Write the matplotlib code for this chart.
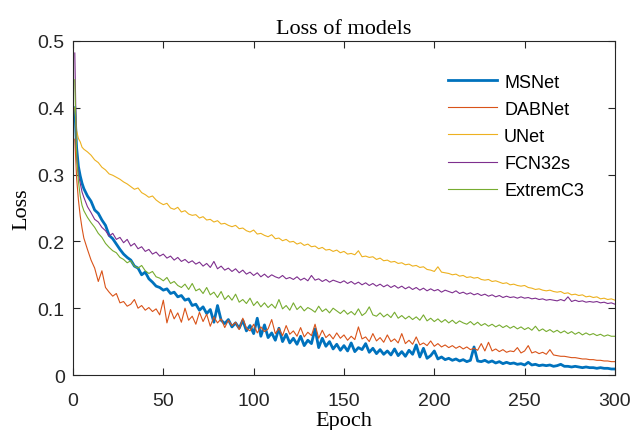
import matplotlib
matplotlib.use('Agg')
import matplotlib.pyplot as plt

# epochs 1..6, then every second epoch up to 300
epochs = [1, 2, 3, 4, 5, 6] + list(range(8, 301, 2))

msnet = [
    0.400, 0.340, 0.312, 0.298, 0.287, 0.279,
    0.268, 0.260, 0.247, 0.242, 0.232, 0.224, 0.209, 0.204, 0.196, 0.188,
    0.181, 0.176, 0.172, 0.163, 0.160, 0.150, 0.154, 0.144, 0.139, 0.133,
    0.131, 0.127, 0.129, 0.122, 0.124, 0.117, 0.119, 0.112, 0.114, 0.104,
    0.106, 0.097, 0.102, 0.092, 0.098, 0.079, 0.104, 0.082, 0.077, 0.083,
    0.072, 0.078, 0.070, 0.082, 0.066, 0.074, 0.062, 0.085, 0.058, 0.075,
    0.056, 0.063, 0.052, 0.070, 0.050, 0.061, 0.048, 0.055, 0.046, 0.058,
    0.044, 0.052, 0.047, 0.069, 0.041, 0.055, 0.043, 0.050, 0.039, 0.046,
    0.037, 0.044, 0.036, 0.048, 0.035, 0.041, 0.038, 0.047, 0.034, 0.040,
    0.032, 0.038, 0.031, 0.036, 0.030, 0.039, 0.029, 0.035, 0.028, 0.037,
    0.031, 0.045, 0.027, 0.040, 0.025, 0.029, 0.036, 0.024, 0.027, 0.023,
    0.025, 0.022, 0.024, 0.021, 0.023, 0.020, 0.022, 0.042, 0.021, 0.020,
    0.022, 0.019, 0.021, 0.018, 0.020, 0.017, 0.019, 0.017, 0.018, 0.016,
    0.017, 0.015, 0.019, 0.015, 0.016, 0.014, 0.015, 0.014, 0.015, 0.013,
    0.014, 0.016, 0.013, 0.013, 0.012, 0.013, 0.012, 0.011, 0.012, 0.011,
    0.011, 0.010, 0.011, 0.010, 0.010, 0.009, 0.009,
]

dabnet = [
    0.353, 0.295, 0.262, 0.238, 0.220, 0.205,
    0.188, 0.172, 0.160, 0.140, 0.156, 0.131, 0.124, 0.118, 0.122, 0.108,
    0.110, 0.103, 0.106, 0.113, 0.100, 0.104, 0.097, 0.101, 0.095, 0.099,
    0.090, 0.112, 0.078, 0.098, 0.084, 0.093, 0.079, 0.100, 0.082, 0.088,
    0.076, 0.094, 0.080, 0.091, 0.073, 0.087, 0.078, 0.084, 0.071, 0.082,
    0.074, 0.079, 0.068, 0.085, 0.070, 0.066, 0.076, 0.063, 0.072, 0.065,
    0.069, 0.083, 0.062, 0.070, 0.059, 0.074, 0.061, 0.066, 0.058, 0.071,
    0.057, 0.064, 0.059, 0.076, 0.055, 0.067, 0.056, 0.061, 0.054, 0.063,
    0.055, 0.060, 0.052, 0.058, 0.053, 0.072, 0.054, 0.057, 0.050, 0.062,
    0.051, 0.056, 0.049, 0.060, 0.050, 0.054, 0.048, 0.062, 0.047, 0.052,
    0.046, 0.057, 0.045, 0.048, 0.044, 0.051, 0.043, 0.047, 0.042, 0.045,
    0.041, 0.044, 0.040, 0.043, 0.039, 0.042, 0.038, 0.040, 0.037, 0.047,
    0.036, 0.049, 0.036, 0.039, 0.035, 0.038, 0.034, 0.036, 0.035, 0.041,
    0.033, 0.036, 0.044, 0.033, 0.035, 0.032, 0.034, 0.031, 0.038, 0.030,
    0.029, 0.028, 0.028, 0.027, 0.026, 0.026, 0.025, 0.024, 0.024, 0.023,
    0.023, 0.022, 0.022, 0.021, 0.021, 0.020, 0.020,
]

unet = [
    0.400, 0.366, 0.354, 0.349, 0.341, 0.338,
    0.334, 0.329, 0.322, 0.318, 0.311, 0.307, 0.301, 0.299, 0.296, 0.293,
    0.289, 0.286, 0.282, 0.278, 0.280, 0.273, 0.270, 0.266, 0.268, 0.262,
    0.258, 0.255, 0.257, 0.250, 0.248, 0.251, 0.244, 0.246, 0.241, 0.239,
    0.240, 0.235, 0.237, 0.232, 0.233, 0.229, 0.231, 0.226, 0.227, 0.224,
    0.222, 0.224, 0.219, 0.220, 0.216, 0.214, 0.217, 0.211, 0.212, 0.209,
    0.207, 0.210, 0.204, 0.205, 0.201, 0.203, 0.199, 0.200, 0.196, 0.198,
    0.194, 0.196, 0.192, 0.193, 0.189, 0.191, 0.187, 0.188, 0.185, 0.187,
    0.183, 0.185, 0.181, 0.182, 0.180, 0.186, 0.177, 0.178, 0.176, 0.177,
    0.173, 0.175, 0.171, 0.172, 0.169, 0.170, 0.167, 0.168, 0.165, 0.166,
    0.163, 0.164, 0.161, 0.162, 0.158, 0.157, 0.155, 0.162, 0.154, 0.153,
    0.152, 0.150, 0.151, 0.148, 0.149, 0.146, 0.147, 0.145, 0.146, 0.143,
    0.142, 0.143, 0.140, 0.141, 0.139, 0.137, 0.138, 0.135, 0.136, 0.134,
    0.133, 0.134, 0.131, 0.130, 0.128, 0.129, 0.127, 0.126, 0.127, 0.125,
    0.124, 0.125, 0.122, 0.123, 0.120, 0.121, 0.119, 0.120, 0.117, 0.118,
    0.116, 0.117, 0.114, 0.115, 0.113, 0.114, 0.112,
]

fcn32s = [
    0.482, 0.330, 0.300, 0.287, 0.274, 0.266,
    0.252, 0.243, 0.233, 0.229, 0.221, 0.216, 0.208, 0.212, 0.203, 0.206,
    0.198, 0.203, 0.193, 0.197, 0.189, 0.192, 0.185, 0.188, 0.181, 0.184,
    0.178, 0.181, 0.175, 0.178, 0.172, 0.176, 0.170, 0.173, 0.168, 0.171,
    0.166, 0.169, 0.163, 0.167, 0.161, 0.170, 0.159, 0.163, 0.157, 0.160,
    0.155, 0.159, 0.153, 0.157, 0.151, 0.154, 0.149, 0.153, 0.147, 0.151,
    0.146, 0.150, 0.147, 0.145, 0.149, 0.144, 0.146, 0.143, 0.147, 0.142,
    0.145, 0.141, 0.149, 0.142, 0.144, 0.140, 0.143, 0.139, 0.142, 0.140,
    0.138, 0.141, 0.137, 0.140, 0.136, 0.139, 0.135, 0.138, 0.134, 0.137,
    0.133, 0.136, 0.132, 0.135, 0.131, 0.134, 0.130, 0.133, 0.129, 0.132,
    0.128, 0.131, 0.127, 0.130, 0.126, 0.129, 0.126, 0.128, 0.124, 0.127,
    0.125, 0.123, 0.126, 0.122, 0.124, 0.121, 0.123, 0.120, 0.122, 0.119,
    0.121, 0.118, 0.120, 0.117, 0.119, 0.116, 0.118, 0.116, 0.117, 0.115,
    0.117, 0.115, 0.116, 0.114, 0.115, 0.113, 0.114, 0.112, 0.113, 0.112,
    0.111, 0.113, 0.111, 0.117, 0.110, 0.112, 0.110, 0.111, 0.109, 0.110,
    0.109, 0.110, 0.108, 0.109, 0.107, 0.108, 0.106,
]

extremc3 = [
    0.442, 0.330, 0.290, 0.268, 0.254, 0.246,
    0.236, 0.228, 0.221, 0.212, 0.206, 0.197, 0.191, 0.186, 0.183, 0.176,
    0.173, 0.168, 0.171, 0.163, 0.160, 0.164, 0.156, 0.152, 0.155, 0.147,
    0.145, 0.141, 0.146, 0.137, 0.140, 0.134, 0.131, 0.136, 0.128, 0.137,
    0.126, 0.129, 0.122, 0.131, 0.120, 0.124, 0.116, 0.125, 0.113, 0.119,
    0.112, 0.121, 0.109, 0.113, 0.107, 0.115, 0.104, 0.110, 0.102, 0.108,
    0.101, 0.106, 0.100, 0.113, 0.099, 0.104, 0.097, 0.108, 0.098, 0.103,
    0.096, 0.101, 0.098, 0.094, 0.103, 0.095, 0.099, 0.093, 0.100, 0.096,
    0.092, 0.097, 0.091, 0.095, 0.090, 0.099, 0.089, 0.093, 0.102, 0.090,
    0.088, 0.093, 0.087, 0.091, 0.086, 0.094, 0.085, 0.089, 0.084, 0.088,
    0.083, 0.087, 0.082, 0.090, 0.081, 0.085, 0.080, 0.084, 0.079, 0.083,
    0.078, 0.082, 0.077, 0.081, 0.078, 0.076, 0.080, 0.075, 0.079, 0.074,
    0.077, 0.073, 0.076, 0.072, 0.075, 0.071, 0.074, 0.070, 0.073, 0.069,
    0.072, 0.068, 0.071, 0.067, 0.073, 0.066, 0.069, 0.065, 0.068, 0.064,
    0.067, 0.063, 0.066, 0.062, 0.065, 0.061, 0.064, 0.060, 0.063, 0.060,
    0.062, 0.059, 0.061, 0.058, 0.060, 0.058, 0.058,
]

names = ['MSNet', 'DABNet', 'UNet', 'FCN32s', 'ExtremC3']
series = [msnet, dabnet, unet, fcn32s, extremc3]
colors = ['#0072BD', '#D95319', '#EDB120', '#7E2F8E', '#77AC30']
widths = [2.0, 0.8, 0.8, 0.8, 0.8]

xticks = [0, 50, 100, 150, 200, 250, 300]
yticks = [0, 0.1, 0.2, 0.3, 0.4, 0.5]
ytick_labels = ['0', '0.1', '0.2', '0.3', '0.4', '0.5']

sans = ['Liberation Sans', 'DejaVu Sans']
serif = ['Liberation Serif', 'DejaVu Serif']

fig = plt.figure(figsize=(6.32, 4.31), dpi=100)
ax = fig.add_axes([0.1155, 0.1276, 0.8575, 0.775])

for name, vals, c, lw in zip(names, series, colors, widths):
    ax.plot(epochs, vals, color=c, lw=lw, label=name)

ax.set_xlim(0, 300)
ax.set_ylim(0, 0.5)
ax.set_xticks(xticks)
ax.set_yticks(yticks)
ax.set_yticklabels(ytick_labels)
ax.tick_params(direction='in', top=True, right=True, length=5, width=0.8,
               colors='#262626', labelsize=14)
ax.tick_params(axis='x', pad=12)
ax.tick_params(axis='y', pad=6)
for lab in ax.get_xticklabels() + ax.get_yticklabels():
    lab.set_family(sans)
for sp in ax.spines.values():
    sp.set_color('#262626')
    sp.set_linewidth(0.8)

ax.set_title('Loss of models', family=serif, fontsize=16, color='#000000', pad=6)
ax.set_xlabel('Epoch', family=serif, fontsize=16, labelpad=2)
ax.set_ylabel('Loss', family=serif, fontsize=16, labelpad=4)

leg = ax.legend(loc='upper left', bbox_to_anchor=(0.709, 0.827),
                bbox_transform=fig.transFigure, frameon=False,
                prop={'family': sans, 'size': 13}, handlelength=2.7,
                handletextpad=0.4, labelspacing=0.56, borderpad=0,
                borderaxespad=0)
for t in leg.get_texts():
    t.set_color('#000000')

fig.savefig('out.png', dpi=100)
